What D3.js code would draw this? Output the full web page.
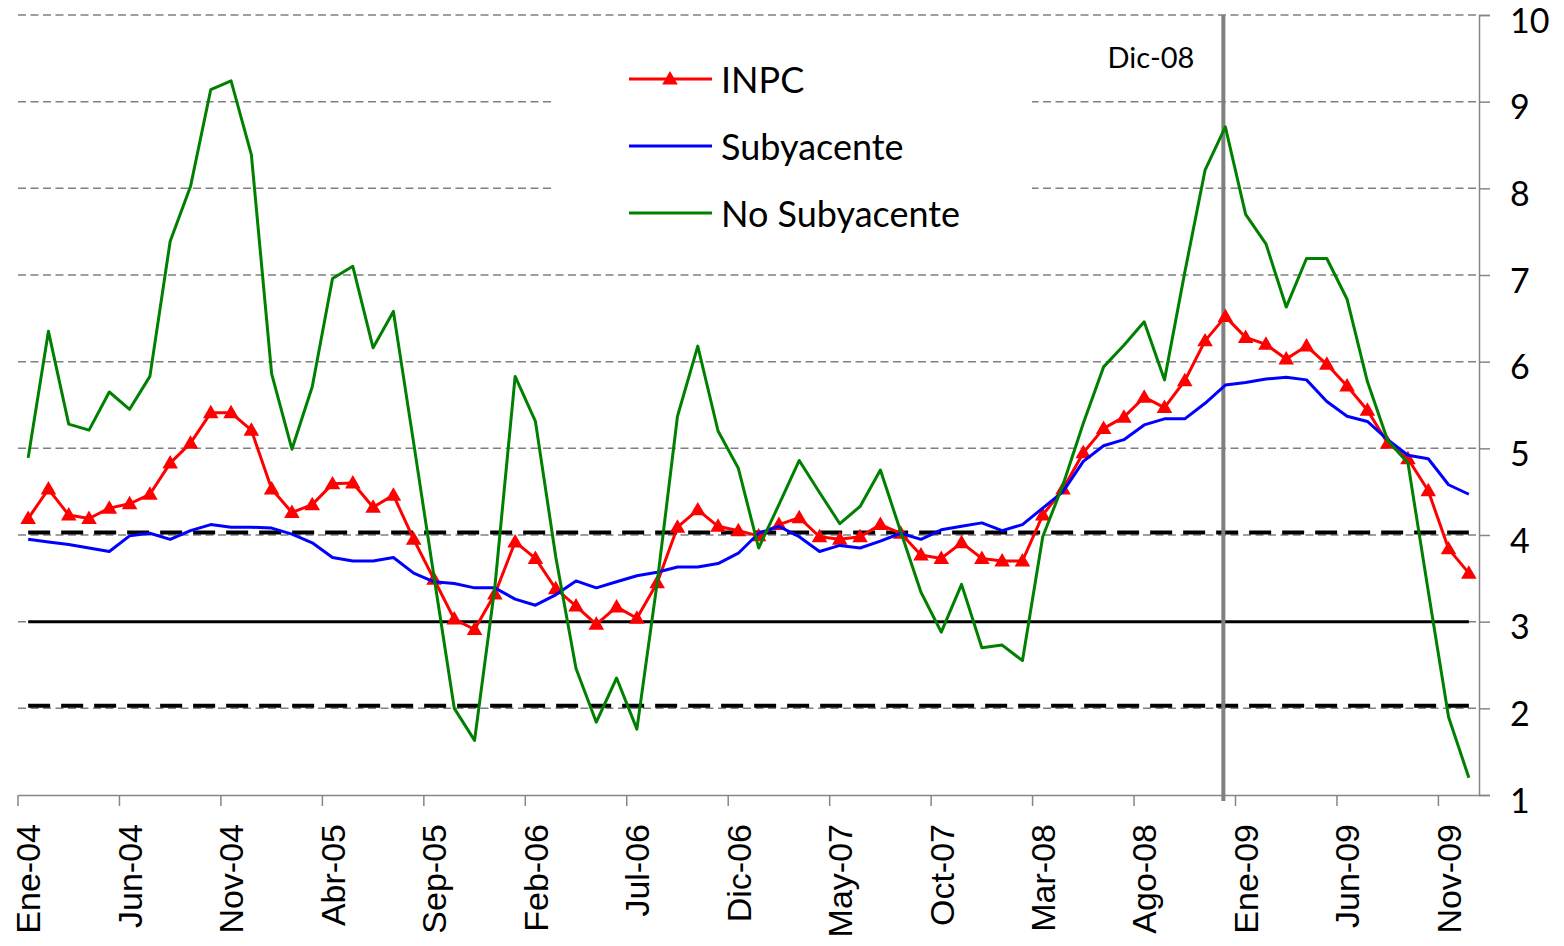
<!DOCTYPE html>
<html>
<head>
<meta charset="utf-8">
<script src="https://cdn.jsdelivr.net/npm/d3@7"></script>
<style>
  body { margin: 0; background: #fff; }
  svg { display: block; font-family: Lato, "Open Sans", sans-serif; }
</style>
</head>
<body>
<div id="chart"></div>
<script>
/*************************/
/* CONSTANTS AND GLOBALS */
/*************************/
const width = 1564;
const height = 946;
const plot = { left: 18, right: 1479, top: 15, bottom: 795 };

/*********************/
/*       DATA        */
/*********************/
const months = ["Ene", "Feb", "Mar", "Abr", "May", "Jun", "Jul", "Ago", "Sep", "Oct", "Nov", "Dic"];
const years = ["04", "05", "06", "07", "08", "09"];
const periods = years.flatMap(yy => months.map(m => `${m}-${yy}`));

// inflacion anual (%)
const inpc = [
  4.19, 4.53, 4.23, 4.19, 4.31, 4.36, 4.47, 4.83, 5.06, 5.41, 5.41, 5.21,
  4.53, 4.26, 4.35, 4.59, 4.60, 4.32, 4.46, 3.95, 3.49, 3.03, 2.91, 3.32,
  3.92, 3.73, 3.38, 3.18, 2.97, 3.17, 3.04, 3.45, 4.09, 4.29, 4.10, 4.05,
  3.99, 4.12, 4.20, 3.98, 3.95, 3.98, 4.12, 4.02, 3.77, 3.73, 3.91, 3.73,
  3.70, 3.70, 4.23, 4.53, 4.95, 5.23, 5.36, 5.59, 5.47, 5.78, 6.24, 6.52,
  6.28, 6.20, 6.03, 6.18, 5.97, 5.72, 5.44, 5.06, 4.88, 4.51, 3.84, 3.56
];
const subyacente = [
  3.95, 3.92, 3.89, 3.85, 3.81, 3.99, 4.02, 3.95, 4.05, 4.12, 4.09, 4.09,
  4.08, 4.01, 3.91, 3.74, 3.70, 3.70, 3.74, 3.56, 3.46, 3.44, 3.39, 3.39,
  3.26, 3.19, 3.31, 3.47, 3.39, 3.46, 3.53, 3.57, 3.63, 3.63, 3.67, 3.79,
  4.02, 4.10, 3.98, 3.81, 3.88, 3.85, 3.93, 4.02, 3.95, 4.06, 4.10, 4.14,
  4.05, 4.12, 4.31, 4.50, 4.85, 5.03, 5.10, 5.27, 5.34, 5.34, 5.52, 5.73,
  5.76, 5.80, 5.82, 5.79, 5.54, 5.37, 5.31, 5.10, 4.92, 4.88, 4.58, 4.47
];
const noSubyacente = [
  4.89, 6.35, 5.28, 5.21, 5.65, 5.45, 5.83, 7.39, 8.02, 9.14, 9.24, 8.39,
  5.86, 4.99, 5.71, 6.96, 7.10, 6.16, 6.58, 5.06, 3.52, 2.00, 1.63, 3.40,
  5.83, 5.31, 3.75, 2.46, 1.84, 2.35, 1.76, 3.45, 5.37, 6.18, 5.20, 4.77,
  3.85, 4.35, 4.86, 4.49, 4.13, 4.33, 4.75, 4.04, 3.34, 2.88, 3.43, 2.70,
  2.73, 2.55, 3.98, 4.58, 5.29, 5.94, 6.19, 6.46, 5.79, 7.03, 8.21, 8.71,
  7.70, 7.36, 6.63, 7.19, 7.19, 6.72, 5.77, 5.09, 4.83, 3.35, 1.90, 1.20
];

// meta de inflacion y su intervalo de variabilidad
const meta = 3;
const intervalo = [4.03, 2.03];

const yTicks = [1, 2, 3, 4, 5, 6, 7, 8, 9, 10];
const gridValues = [2, 3, 4, 5, 6, 7, 8, 9, 10];
const labelEvery = 5;
const marker = "Dic-08";

const series = [
  { name: "INPC", values: inpc, color: "#ff0000", triangles: true },
  { name: "Subyacente", values: subyacente, color: "#0000ff", triangles: false },
  { name: "No Subyacente", values: noSubyacente, color: "#008000", triangles: false }
];

/*********************/
/*      SCALES       */
/*********************/
const xScale = d3.scaleBand()
  .domain(periods)
  .range([plot.left, plot.right])
  .padding(0);

const xMid = d => xScale(d) + xScale.bandwidth() / 2;

const yScale = d3.scaleLinear()
  .domain([1, 10])
  .range([plot.bottom, plot.top]);

const svg = d3.select("#chart")
  .append("svg")
  .attr("width", width)
  .attr("height", height);

/*********************/
/*     GRIDLINES     */
/*********************/
svg.append("g")
  .selectAll("line")
  .data(gridValues)
  .join("line")
  .attr("x1", plot.left)
  .attr("x2", plot.right)
  .attr("y1", d => yScale(d))
  .attr("y2", d => yScale(d))
  .attr("stroke", "#808080")
  .attr("stroke-width", 1.5)
  .attr("stroke-dasharray", "8,4.5");

// legend box hides the gridlines behind it
svg.append("rect")
  .attr("x", 555)
  .attr("y", 30)
  .attr("width", 477)
  .attr("height", 220)
  .attr("fill", "#fff");

/**********************/
/*  META E INTERVALO  */
/**********************/
const first = periods[0];
const last = periods[periods.length - 1];

svg.append("line")
  .attr("x1", xMid(first))
  .attr("x2", xMid(last))
  .attr("y1", yScale(meta))
  .attr("y2", yScale(meta))
  .attr("stroke", "#000")
  .attr("stroke-width", 3);

svg.append("g")
  .selectAll("line")
  .data(intervalo)
  .join("line")
  .attr("x1", xMid(first))
  .attr("x2", xMid(last))
  .attr("y1", d => yScale(d))
  .attr("y2", d => yScale(d))
  .attr("stroke", "#000")
  .attr("stroke-width", 4)
  .attr("stroke-dasharray", "22,11");

/*********************/
/*       AXES        */
/*********************/
const xAxis = d3.axisBottom(xScale)
  .tickValues([])
  .tickSizeOuter(0);

const xAxisG = svg.append("g")
  .attr("transform", `translate(0, ${plot.bottom})`)
  .call(xAxis);
xAxisG.select(".domain").attr("stroke", "#868686").attr("stroke-width", 1.5);

// tick marks sit on the category borders, every 5 months
xAxisG.selectAll("line.cat-tick")
  .data(periods.filter((d, i) => i % labelEvery === 0))
  .join("line")
  .attr("class", "cat-tick")
  .attr("x1", d => xScale(d))
  .attr("x2", d => xScale(d))
  .attr("y1", 0)
  .attr("y2", 11)
  .attr("stroke", "#868686")
  .attr("stroke-width", 1.5);

xAxisG.selectAll("text.cat-label")
  .data(periods.filter((d, i) => i % labelEvery === 0))
  .join("text")
  .attr("class", "cat-label")
  .attr("transform", d => `translate(${xMid(d)}, 29) rotate(-90)`)
  .attr("text-anchor", "end")
  .attr("dy", "0.36em")
  .attr("fill", "#000")
  .style("font-size", "34px")
  .text(d => d);

const yAxis = d3.axisRight(yScale)
  .tickValues(yTicks)
  .tickSize(11)
  .tickPadding(20)
  .tickFormat(d3.format("d"));

const yAxisG = svg.append("g")
  .attr("transform", `translate(${plot.right}, 0)`)
  .call(yAxis);
yAxisG.select(".domain").attr("stroke", "#868686").attr("stroke-width", 1.5);
yAxisG.selectAll(".tick line").attr("stroke", "#868686").attr("stroke-width", 1.5);
yAxisG.selectAll(".tick text")
  .attr("dy", "0.5em")
  .attr("fill", "#000")
  .style("font-size", "34px")
  .style("font-family", "Lato, 'Open Sans', sans-serif");

/*********************/
/*   LINEA DIC-08    */
/*********************/
svg.append("line")
  .attr("x1", xMid(marker) - 2)
  .attr("x2", xMid(marker) - 2)
  .attr("y1", yScale(10))
  .attr("y2", plot.bottom + 6)
  .attr("stroke", "#808080")
  .attr("stroke-width", 4);

svg.append("text")
  .attr("x", xMid(marker) - 31)
  .attr("y", yScale(10) + 53)
  .attr("text-anchor", "end")
  .style("font-size", "29px")
  .text(marker);

/*********************/
/*      SERIES       */
/*********************/
const lineGen = d3.line()
  .x((d, i) => xMid(periods[i]))
  .y(d => yScale(d));

const triangle = d3.symbol(d3.symbolTriangle, 105);

series.forEach(s => {
  svg.append("path")
    .datum(s.values)
    .attr("d", lineGen)
    .attr("fill", "none")
    .attr("stroke", s.color)
    .attr("stroke-width", 3)
    .attr("stroke-linejoin", "round");

  if (s.triangles) {
    svg.append("g")
      .selectAll("path")
      .data(s.values)
      .join("path")
      .attr("d", triangle)
      .attr("transform", (d, i) => `translate(${xMid(periods[i])}, ${yScale(d) + 1})`)
      .attr("fill", s.color);
  }
});

/*********************/
/*      LEGEND       */
/*********************/
const legend = svg.append("g")
  .attr("transform", "translate(629, 79)");

const legendItem = legend.selectAll("g")
  .data(series)
  .join("g")
  .attr("transform", (d, i) => `translate(0, ${i * 67})`);

legendItem.append("line")
  .attr("x1", 0)
  .attr("x2", 83)
  .attr("stroke", d => d.color)
  .attr("stroke-width", 3);

legendItem.filter(d => d.triangles)
  .append("path")
  .attr("d", triangle)
  .attr("transform", "translate(41, 1)")
  .attr("fill", d => d.color);

legendItem.append("text")
  .attr("x", 92)
  .attr("y", 14)
  .style("font-size", "36px")
  .text(d => d.name);
</script>
</body>
</html>
